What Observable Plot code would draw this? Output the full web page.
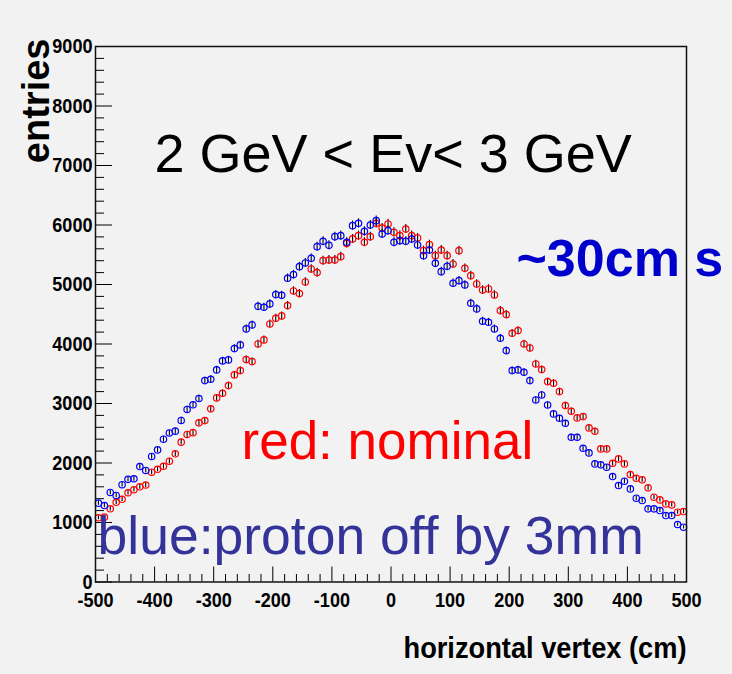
<!DOCTYPE html>
<html><head><meta charset="utf-8">
<script src="https://cdn.jsdelivr.net/npm/d3@7"></script>
<script src="https://cdn.jsdelivr.net/npm/@observablehq/plot@0.6"></script>
<style>
html,body{margin:0;padding:0;background:#f2f2f2;}
svg{display:block;}
</style></head><body><div id="chart"></div>
<script>
// bin centres (10 cm bins from -500 to 500)
const binCenters = d3.range(-495, 500, 10);
// red: nominal
const nominal = [1080,1090,1230,1340,1390,1500,1550,1600,1630,1845,
  1895,1945,2030,2155,2350,2480,2510,2675,2713,2910,
  3094,3172,3301,3481,3553,3738,3704,4001,4069,4337,
  4432,4472,4645,4892,4847,5043,5261,5200,5401,5412,
  5412,5468,5690,5766,5821,5709,5804,6028,5950,6018,
  5877,5821,5933,5821,5782,5569,5670,5485,5580,5485,
  5345,5569,5272,5149,5009,4908,4925,4824,4561,4494,
  4180,4225,4001,3934,3665,3570,3368,3340,3200,2965,
  2870,2758,2780,2590,2534,2237,2237,1996,2069,1985,
  1806,1744,1717,1582,1425,1380,1313,1296,1173,1184];
// blue: proton off by 3mm
const protonOff = [1325,1285,1505,1455,1635,1725,1735,1940,1875,2110,
  2220,2400,2505,2535,2715,2900,2978,3083,3385,3407,
  3565,3716,3733,3923,3985,4254,4321,4633,4617,4674,
  4830,4818,5104,5166,5300,5362,5440,5636,5726,5658,
  5804,5821,5709,5989,6028,5893,6000,6073,5849,5905,
  5709,5737,5726,5765,5665,5485,5580,5356,5216,5306,
  5020,5065,4993,4684,4590,4382,4365,4253,4096,3889,
  3553,3565,3525,3385,3060,3144,2976,2825,2752,2668,
  2433,2433,2248,2170,1985,1969,1929,1772,1621,1694,
  1565,1408,1369,1229,1229,1201,1117,1117,966,921];
const xMajorTicks = d3.range(-500, 501, 100);
const xMinorTicks = d3.range(-500, 501, 20).filter(v => v % 100 !== 0);
const yMajorTicks = d3.range(0, 9001, 1000);
const yMinorTicks = d3.range(0, 9001, 200).filter(v => v % 1000 !== 0);
const labels = ["2 GeV < Ev< 3 GeV", "~30cm s", "red: nominal", "blue:proton off by 3mm", "horizontal vertex (cm)", "entries"];

const W = 732, H = 674, mL = 95, mR = 46, mT = 46, mB = 92.5;
const xDom = [-500, 500], yDom = [0, 9000];
const pxX = p => p * (xDom[1] - xDom[0]) / (W - mL - mR);
const pxY = p => p * (yDom[1] - yDom[0]) / (H - mT - mB);

const rows = vals => vals.map((v, i) => ({x: binCenters[i], y: v, err: Math.sqrt(v)}));
const redRows = rows(nominal), blueRows = rows(protonOff);
const font = "'Liberation Sans', Arial, Helvetica, sans-serif";

const plot = Plot.plot({
  width: W, height: H,
  marginLeft: mL, marginRight: mR, marginTop: mT, marginBottom: mB,
  style: {background: "#f2f2f2", fontFamily: font, color: "black"},
  x: {domain: xDom},
  y: {domain: yDom},
  marks: [
    Plot.ruleX(xMajorTicks, {x: d => d, y1: yDom[0], y2: yDom[0] + pxY(15), stroke: "black"}),
    Plot.ruleX(xMinorTicks, {x: d => d, y1: yDom[0], y2: yDom[0] + pxY(7.5), stroke: "black"}),
    Plot.ruleY(yMajorTicks, {y: d => d, x1: xDom[0], x2: xDom[0] + pxX(17), stroke: "black"}),
    Plot.ruleY(yMinorTicks, {y: d => d, x1: xDom[0], x2: xDom[0] + pxX(9), stroke: "black"}),
    Plot.axisX(xMajorTicks, {tickSize: 0, tickPadding: 10, fontSize: 21, fontWeight: "bold", tickFormat: d => String(d), label: null}),
    Plot.axisY(yMajorTicks, {tickSize: 0, tickPadding: 3, fontSize: 21, fontWeight: "bold", tickFormat: d => String(d), label: null}),
    Plot.ruleX(redRows, {x: "x", y1: d => d.y - d.err, y2: d => d.y + d.err, stroke: "black", strokeWidth: 1.1}),
    Plot.dot(redRows, {x: "x", y: "y", r: 3.2, stroke: "#ff0000", strokeWidth: 1.2}),
    Plot.ruleX(blueRows, {x: "x", y1: d => d.y - d.err, y2: d => d.y + d.err, stroke: "black", strokeWidth: 1.1}),
    Plot.dot(blueRows, {x: "x", y: "y", r: 3.2, stroke: "#0000ff", strokeWidth: 1.2}),
    Plot.frame({stroke: "#111", strokeWidth: 1.5}),
    Plot.text([labels[0]], {frameAnchor: "top-left", lineAnchor: "middle", dx: 59, dy: 108, textAnchor: "start", fontSize: 54, fill: "black"}),
    Plot.text([labels[1]], {frameAnchor: "top-left", lineAnchor: "middle", dx: 421, dy: 213, textAnchor: "start", fontSize: 52, fontWeight: "bold", fill: "#0000cc"}),
    Plot.text([labels[2]], {frameAnchor: "top-left", lineAnchor: "middle", dx: 146, dy: 396, textAnchor: "start", fontSize: 53, fill: "#ff0000"}),
    Plot.text([labels[3]], {frameAnchor: "top-left", lineAnchor: "middle", dx: 2, dy: 490, textAnchor: "start", fontSize: 53.5, fill: "#333399"}),
    Plot.text([labels[4]], {frameAnchor: "bottom-right", lineAnchor: "middle", dx: 0, dy: 66, textAnchor: "end", fontSize: 30, fontWeight: "bold", fill: "black"}),
    Plot.text([labels[5]], {frameAnchor: "top-left", lineAnchor: "middle", dx: -59, dy: -8, textAnchor: "end", rotate: -90, fontSize: 38, fontWeight: "bold", fill: "black"})
  ]
});
document.getElementById("chart").appendChild(plot);
// condense the bold Helvetica-like labels a little, as in the reference
d3.select(plot).selectAll("g[aria-label='x-axis tick label'] text, g[aria-label='y-axis tick label'] text").each(function() {
  const len = this.getComputedTextLength();
  d3.select(this).attr("textLength", len * 0.86).attr("lengthAdjust", "spacingAndGlyphs");
});
d3.select(plot).selectAll("text").filter(function() { return this.textContent === labels[4]; }).each(function() {
  d3.select(this).attr("textLength", 283).attr("lengthAdjust", "spacingAndGlyphs");
});
</script></body></html>
